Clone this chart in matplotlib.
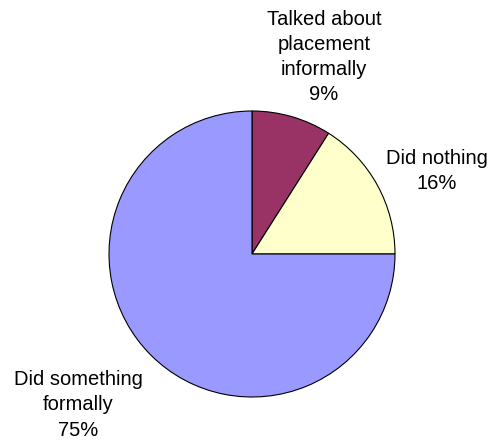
import matplotlib
matplotlib.use("Agg")
import matplotlib.pyplot as plt

categories = ["Talked about\nplacement\ninformally", "Did nothing", "Did something\nformally"]
values = [9, 16, 75]
colors = ["#993366", "#FFFFCC", "#9999FF"]

plt.rcParams['font.family'] = ['Liberation Sans', 'DejaVu Sans']

fig = plt.figure(figsize=(4.91, 4.41), dpi=100)
ax = fig.add_axes([0, 0, 1, 1])

cx, cy, r = 252, 441 - 254, 143
ax.pie(values, colors=colors, startangle=90, counterclock=False,
       center=(cx, cy), radius=r, frame=True,
       wedgeprops=dict(edgecolor='black', linewidth=0.8))
ax.set_xlim(0, 491)
ax.set_ylim(0, 441)
ax.set_aspect('equal')
ax.axis('off')

label_pos = [(324, 441 - 57), (437, 441 - 171), (78, 441 - 405)]
for cat, v, (x, y) in zip(categories, values, label_pos):
    ax.text(x, y, f"{cat}\n{v}%", ha='center', va='center',
            fontsize=14.5, linespacing=1.42)

fig.savefig("out.png", dpi=100)
